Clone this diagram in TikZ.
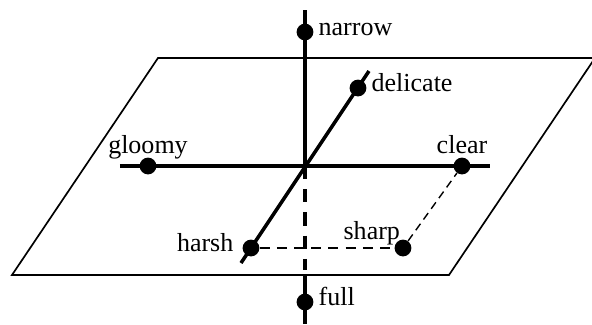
\documentclass[tikz,border=0pt]{standalone}
\usepackage{fontspec}
\setmainfont{Liberation Serif}
\begin{document}
\begin{tikzpicture}[
            dot/.style={
                circle,
                fill,
                minimum size=0.42cm,
                inner sep=0pt
            },
            lbl/.style={
                font=\fontsize{18.5}{22}\selectfont,
                text height=0.7em,
                text depth=0.2em
            },
            axis/.style={line width=2.5pt},
            plane/.style={line width=1.2pt}
        ]

            \useasboundingbox (-7.625, -3.95) rectangle (7.175, 4.15);

            % the plane
            \draw[plane] (-7.325, -2.725) -- (-3.675, 2.7)
                -- (7.25, 2.7) -- (3.6, -2.725) -- cycle;

            \coordinate (o) at (0, 0);
            \coordinate (vtop) at (0, 3.9);
            \coordinate (vdash) at (0, -2.6);
            \coordinate (pbot) at (0, -2.725);
            \coordinate (vbot) at (0, -3.95);
            \coordinate (hleft) at (-4.625, 0);
            \coordinate (hright) at (4.625, 0);
            \coordinate (dtop) at (1.6, 2.375);
            \coordinate (dbot) at (-1.6, -2.425);

            % axes
            \draw[axis] (vtop) -- (o);
            \draw[axis, dash pattern=on 0.33cm off 0.25cm] (o) -- (vdash);
            \draw[axis] (pbot) -- (vbot);
            \draw[axis] (hleft) -- (hright);
            \draw[axis] (dbot) -- (dtop);

            \node[dot, label={[lbl]right:narrow}] (narrow) at (0, 3.35) {};
            \node[dot, label={[lbl]right:full}] (full) at (0, -3.4) {};
            \node[dot, label={[lbl, label distance=-0.1cm]above:gloomy}] (gloomy) at (-3.925, 0) {};
            \node[dot, label={[lbl, label distance=-0.1cm]above:clear}] (clear) at (3.925, 0) {};
            \node[dot, label={[lbl]right:delicate}] (delicate) at (1.325, 1.95) {};
            \node[dot, label={[lbl, label distance=0.1cm]left:harsh}] (harsh) at (-1.35, -2.05) {};
            \node[dot, label={[lbl, xshift=-0.78cm, yshift=-0.21cm]above:sharp}] (sharp) at (2.45, -2.05) {};

            % projections of sharp
            \draw[line width=1.4pt, dash pattern=on 0.25cm off 0.18cm] (harsh) -- (sharp);
            \draw[line width=1pt, dash pattern=on 0.2cm off 0.13cm] (sharp) -- (clear);

        \end{tikzpicture}
\end{document}
